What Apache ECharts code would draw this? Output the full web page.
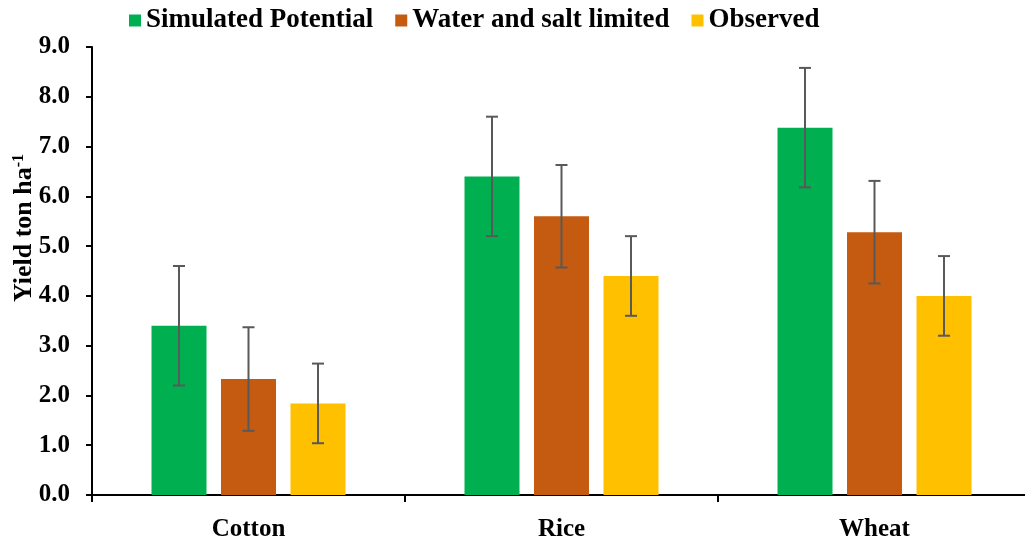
<!DOCTYPE html>
<html><head><meta charset="utf-8">
<script src="https://cdn.jsdelivr.net/npm/echarts@6/dist/echarts.min.js"></script>
<style>html,body{margin:0;padding:0;background:#fff}#c{width:1025px;height:541px}</style>
</head><body><div id="c"></div>
<script>
var categories = ['Cotton', 'Rice', 'Wheat'];
var seriesNames = ['Simulated Potential', 'Water and salt limited', 'Observed'];
var potential = [3.4, 6.4, 7.38];
var limited = [2.33, 5.6, 5.28];
var observed = [1.84, 4.4, 4.0];
var potentialErr = [1.2, 1.2, 1.2];
var limitedErr = [1.04, 1.03, 1.03];
var observedErr = [0.8, 0.8, 0.8];
var yTicks = [0, 1, 2, 3, 4, 5, 6, 7, 8, 9];
var colors = ['#00B050', '#C55A11', '#FFC000'];

var values = [potential, limited, observed];
var errs = [potentialErr, limitedErr, observedErr];
var FONT = '"Liberation Serif", "Times New Roman", serif';
var BAR_W = 55, BAR_GAP = 14.5;

var chart = echarts.init(document.getElementById('c'));
var series = [];
values.forEach(function (v, i) {
  series.push({
    name: seriesNames[i], type: 'bar', data: v, barWidth: BAR_W,
    barGap: (BAR_GAP / BAR_W * 100) + '%',
    itemStyle: { color: colors[i] }
  });
});
values.forEach(function (v, i) {
  var d = v.map(function (val, k) { return [k, val - errs[i][k], val + errs[i][k]]; });
  series.push({
    type: 'custom', data: d, z: 10, silent: true,
    renderItem: function (params, api) {
      var off = (i - 1) * (BAR_W + BAR_GAP);
      var lo = api.coord([api.value(0), api.value(1)]);
      var hi = api.coord([api.value(0), api.value(2)]);
      var x = lo[0] + off, cap = 6;
      var st = { stroke: '#595959', lineWidth: 2 };
      return { type: 'group', children: [
        { type: 'line', shape: { x1: x, y1: lo[1], x2: x, y2: hi[1] }, style: st },
        { type: 'line', shape: { x1: x - cap, y1: lo[1], x2: x + cap, y2: lo[1] }, style: st },
        { type: 'line', shape: { x1: x - cap, y1: hi[1], x2: x + cap, y2: hi[1] }, style: st }
      ] };
    }
  });
});

chart.setOption({
  animation: false,
  textStyle: { fontFamily: FONT },
  legend: {
    data: seriesNames, top: 2, left: 124, itemWidth: 12, itemHeight: 12, itemGap: 22,
    icon: 'rect',
    textStyle: { fontFamily: FONT, fontWeight: 'bold', fontSize: 27, color: '#000' }
  },
  grid: { left: 92, width: 939, top: 47, bottom: 46, outerBoundsMode: 'none', containLabel: false },
  xAxis: {
    type: 'category', data: categories,
    axisLine: { lineStyle: { color: '#000', width: 2 } },
    axisTick: { show: true, length: 7, lineStyle: { color: '#000', width: 2 } },
    axisLabel: { margin: 22, fontFamily: FONT, fontWeight: 'bold', fontSize: 25, color: '#000' }
  },
  yAxis: {
    type: 'value', min: 0, max: 9, interval: 1,
    axisLine: { show: true, lineStyle: { color: '#000', width: 2 } },
    axisTick: { show: true, length: 6, lineStyle: { color: '#000', width: 2 } },
    splitLine: { show: false },
    axisLabel: {
      margin: 22, fontFamily: FONT, fontWeight: 'bold', fontSize: 25, color: '#000',
      formatter: function (v) { return v.toFixed(1); }
    }
  },
  graphic: [{
    type: 'text', x: 11, y: 228, rotation: Math.PI / 2,
    style: {
      text: '{b|Yield ton ha}{s|-1}', align: 'center', verticalAlign: 'top',
      rich: {
        b: { fontFamily: FONT, fontWeight: 'bold', fontSize: 26, fill: '#000', color: '#000' },
        s: { fontFamily: FONT, fontWeight: 'bold', fontSize: 16, fill: '#000', color: '#000', verticalAlign: 'top', padding: [0, 0, 10, 0] }
      }
    }
  }],
  series: series
});
</script></body></html>
